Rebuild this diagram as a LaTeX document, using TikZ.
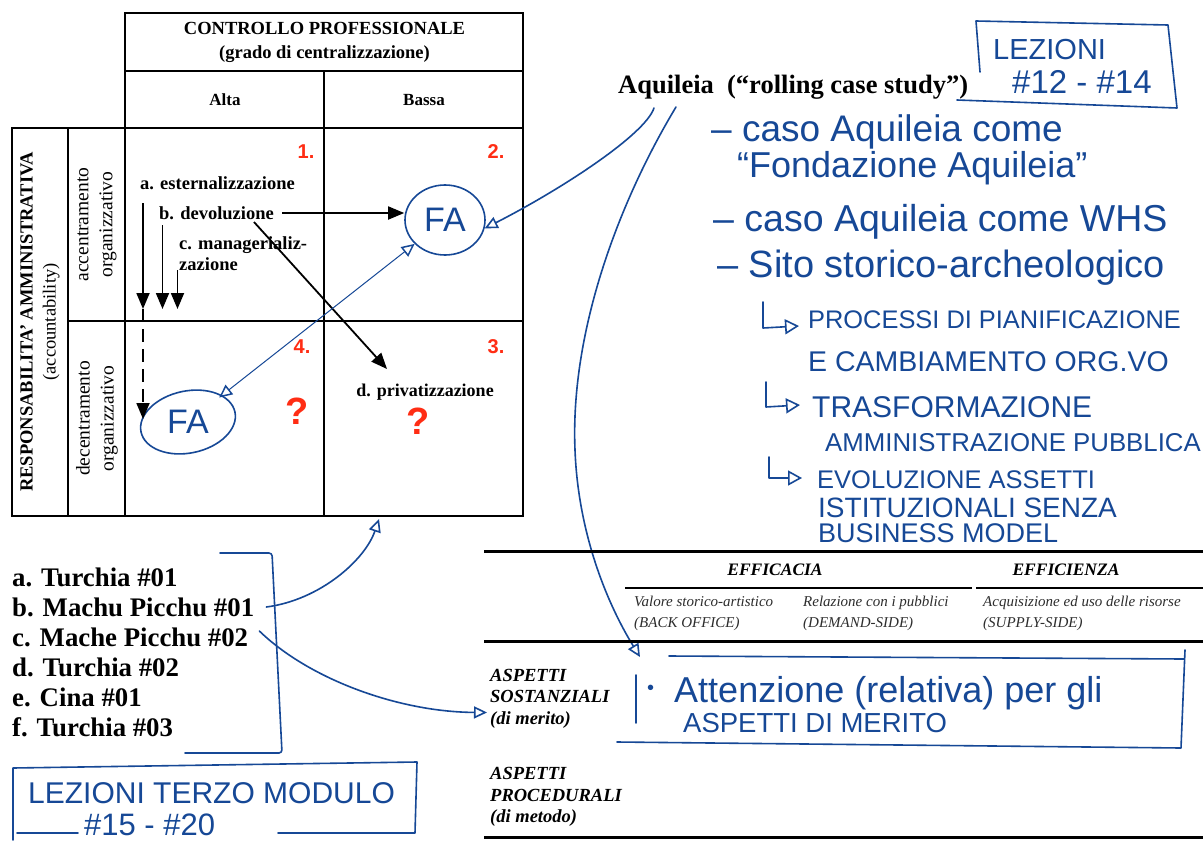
\documentclass[tikz,border=0pt]{standalone}
\usepackage{fontspec}
\setmainfont{Liberation Serif}
\newfontfamily\handfont{Liberation Sans}
\newfontfamily\numfont{Liberation Sans}
\usetikzlibrary{arrows.meta,shapes.geometric,calc}
\definecolor{hblue}{RGB}{22,72,150}
\definecolor{nred}{RGB}{255,45,20}
\definecolor{tgray}{RGB}{45,45,45}
\newcommand\fsz[2]{\fontsize{#1}{#2}\selectfont}
\tikzset{
  grid/.style={line width=1.3pt},
  ser/.style={inner sep=0pt},
  num/.style={inner sep=0pt, text=nred, font=\numfont\bfseries\fsz{20}{24}},
  qm/.style={inner sep=0pt, text=nred, font=\numfont\bfseries\fsz{38}{40}},
  blk/.style={line width=1.8pt, -{Triangle[length=16pt,width=13pt]}},
  hl/.style={draw=hblue, line width=1.6pt, line cap=round, line join=round},
  harr/.style={-{Triangle[open,length=13pt,width=12pt]}},
  larr/.style={-{Triangle[open,length=14pt,width=15pt]}},
  hw/.style={inner sep=0pt, anchor=west, text=hblue},
  fa/.style={ellipse, draw=hblue, line width=1.6pt, text=hblue, inner sep=0pt, font=\handfont\fsz{34}{36}},
  lst/.style={inner sep=0pt, anchor=west, font=\bfseries\fsz{26.8}{30}},
}
\begin{document}
\begin{tikzpicture}[x=1pt,y=-1pt]
\useasboundingbox (0,0) rectangle (1203,841);
\fill[white] (0,0) rectangle (1203,841);

% ---------- matrix grid ----------
\draw[grid] (125,13) rectangle (523,516);
\draw[grid] (125,71) -- (523,71);
\draw[grid] (12,128) rectangle (125,516);
\draw[grid] (125,128) -- (523,128);
\draw[grid] (68,128) -- (68,516);
\draw[grid] (324,71) -- (324,516);
\draw[grid] (68,321) -- (523,321);

\node[ser, align=center, font=\bfseries\fsz{18.5}{24}] (hdr) at (324.5,42) {CONTROLLO PROFESSIONALE\\(grado di centralizzazione)};
\node[ser, font=\bfseries\fsz{17}{20}] (alta) at (225,100) {Alta};
\node[ser, font=\bfseries\fsz{17}{20}] (bassa) at (424,100) {Bassa};

\node[ser, rotate=90, align=center, font=\fsz{18.5}{23}] (resp) at (40,322) {\bfseries RESPONSABILITA' AMMINISTRATIVA\\(accountability)};
\node[ser, rotate=90, align=center, font=\fsz{19.5}{24}] (acc) at (97,224.5) {accentramento\\organizzativo};
\node[ser, rotate=90, align=center, font=\fsz{19.5}{24}] (dec) at (97,418.5) {decentramento\\organizzativo};

\node[num] (n1) at (306,152) {1.};
\node[num] (n2) at (496,152) {2.};
\node[num] (n4) at (302,347) {4.};
\node[num] (n3) at (496,347) {3.};
\node[qm] (q4) at (297,411) {?};
\node[qm] (q3) at (418,421) {?};

\node[ser, anchor=west, font=\bfseries\fsz{18.5}{21}] (este) at (140,183.6) {a. esternalizzazione};
\node[ser, anchor=west, font=\bfseries\fsz{18.5}{21}] (devol) at (159,213) {b. devoluzione};
\node[ser, anchor=west, align=left, font=\bfseries\fsz{18.5}{21}] (manag) at (179,253.5) {c. managerializ-\\zazione};
\node[ser, font=\bfseries\fsz{18}{21}] (priv) at (425,392) {d. privatizzazione};

% FA ellipses
\node[fa, minimum width=80pt, minimum height=70pt] (fatop) at (445,220) {FA};
\node[fa, draw=none, minimum width=96pt, minimum height=62pt] (fabot) at (188,422) {FA};
\draw[hl, rotate around={12:(fabot.center)}] (fabot.center) ellipse [x radius=48pt, y radius=31pt];

% black arrows
\coordinate (a1s) at (143,203);
\coordinate (a1e) at (143,309);
\coordinate (a1t) at (143,419);
\coordinate (a2s) at (162.5,225);
\coordinate (a2e) at (162.5,309);
\coordinate (a3s) at (177.5,270);
\coordinate (a3e) at (177.5,309);
\coordinate (dS) at (254,222);
\coordinate (dE) at (387,369);
\draw[blk] (a1s) -- (a1e);
\draw[blk] (a2s) -- (a2e);
\draw[blk] (a3s) -- (a3e);
\draw[blk, dash pattern=on 13pt off 7pt] (a1e) -- (a1t);
\draw[blk, shorten <=8pt] (devol.east) -- (devol.east -| fatop.west);
\draw[blk] (dS) -- (dE);

% blue connector between FA
\draw[hl, line width=1pt, {Triangle[open,length=13pt,width=12pt,line width=1.5pt]}-{Triangle[open,length=13pt,width=12pt,line width=1.5pt]}] (fabot) -- (fatop);

% ---------- Aquileia ----------
\node[ser, anchor=base west, font=\bfseries\fsz{26.5}{30}] (aq) at (618,93) {Aquileia~ (“rolling case study”)};
\coordinate (aqA) at (654,108);
\coordinate (aqB) at (676,107);
\coordinate (tipB) at (640,657);
\draw[hl, harr] (aqA) .. controls (645,135) and (560,190) .. (fatop.-12);
\draw[hl, harr] (aqB) .. controls (620,200) and (570,330) .. (575,450) .. controls (578,530) and (605,600) .. (tipB);

% LEZIONI #12-#14 box
\draw[hl] (980,72) -- (976,21) -- (1168,25) -- (1177,108) -- (957,100);
\node[hw, font=\handfont\fsz{29}{32}] (lez1) at (993,50) {LEZIONI};
\node[hw, font=\handfont\fsz{33}{34}] (lez2) at (1012,82) {\#12 - \#14};

% handwritten notes
\node[hw, font=\handfont\fsz{37}{40}] (h1) at (711,132) {– caso Aquileia come};
\node[hw, font=\handfont\fsz{36}{40}] (h2) at (737,168) {“Fondazione Aquileia”};
\node[hw, font=\handfont\fsz{37.5}{40}] (h3) at (713,222) {– caso Aquileia come WHS};
\node[hw, font=\handfont\fsz{38}{40}] (h4) at (717,268) {– Sito storico-archeologico};

\coordinate (l1a) at (763,302); \coordinate (l1b) at (763,328); \coordinate (l1c) at (799,326);
\coordinate (l2a) at (766,382); \coordinate (l2b) at (766,407); \coordinate (l2c) at (800,405);
\coordinate (l3a) at (769,457); \coordinate (l3b) at (769,478); \coordinate (l3c) at (802,478);
\draw[hl, larr] (l1a) -- (l1b) -- (l1c);
\draw[hl, larr] (l2a) -- (l2b) -- (l2c);
\draw[hl, larr] (l3a) -- (l3b) -- (l3c);

\node[hw, font=\handfont\fsz{25.4}{28}] (h5) at (808,320) {PROCESSI DI PIANIFICAZIONE};
\node[hw, font=\handfont\fsz{28.5}{30}] (h6) at (808,362) {E CAMBIAMENTO ORG.VO};
\node[hw, font=\handfont\fsz{30}{32}] (h7) at (812,407) {TRASFORMAZIONE};
\node[hw, font=\handfont\fsz{25.8}{28}] (h8) at (825,443) {AMMINISTRAZIONE PUBBLICA};
\node[hw, font=\handfont\fsz{25.5}{28}] (h9) at (817,480) {EVOLUZIONE ASSETTI};
\node[hw, font=\handfont\fsz{28}{30}] (h10) at (818,508) {ISTITUZIONALI SENZA};
\node[hw, font=\handfont\fsz{27}{30}] (h11) at (818,533) {BUSINESS MODEL};

% ---------- lower table ----------
\draw[line width=3pt] (484,551) -- (1203,551);
\draw[line width=2.2pt] (625,588) -- (972,588);
\draw[line width=2.2pt] (976,588) -- (1203,588);
\draw[line width=3pt] (484,641) -- (1203,641);
\draw[line width=3pt] (484,837) -- (1203,837);

\node[ser, font=\bfseries\itshape\fsz{17.5}{21}] (effa) at (775,570) {EFFICACIA};
\node[ser, font=\bfseries\itshape\fsz{17.5}{21}] (effi) at (1066,570) {EFFICIENZA};
\node[ser, anchor=west, align=left, text=tgray, font=\itshape\fsz{15}{21}] (val) at (634,613.5) {Valore storico-artistico\\(BACK OFFICE)};
\node[ser, anchor=west, align=left, text=tgray, font=\itshape\fsz{15}{21}] (rel) at (803,613.5) {Relazione con i pubblici\\(DEMAND-SIDE)};
\node[ser, anchor=west, align=left, text=tgray, font=\itshape\fsz{15}{21}] (acq) at (983,613.5) {Acquisizione ed uso delle risorse\\(SUPPLY-SIDE)};

\node[ser, anchor=west, align=left, font=\bfseries\itshape\fsz{18.5}{21.5}] (sost) at (490,698.5) {ASPETTI\\SOSTANZIALI\\(di merito)};
\node[ser, anchor=west, align=left, font=\bfseries\itshape\fsz{18.5}{21.5}] (proc) at (490,797) {ASPETTI\\PROCEDURALI\\(di metodo)};

% attention box
\draw[hl] (669,656) -- (1184,659);
\draw[hl] (1185,650) -- (1181,748) -- (617,742);
\draw[hl] (636,675) -- (636,723);
\node[hw, font=\handfont\fsz{20}{22}] (bul) at (647,690) {•};
\node[hw, font=\handfont\fsz{36}{40}] (att1) at (674,693) {Attenzione (relativa) per gli};
\node[hw, font=\handfont\fsz{27.5}{30}] (att2) at (683,723) {ASPETTI DI MERITO};

% ---------- list ----------
\node[lst] (li1) at (12,577) {a. Turchia \#01};
\node[lst] (li2) at (12,607) {b. Machu Picchu \#01};
\node[lst] (li3) at (12,637) {c. Mache Picchu \#02};
\node[lst] (li4) at (12,667) {d. Turchia \#02};
\node[lst] (li5) at (12,697) {e. Cina \#01};
\node[lst] (li6) at (12,727) {f. Turchia \#03};

\draw[hl, rounded corners=3pt] (220,553) -- (272,553) -- (282,753) -- (185,753);
\coordinate (tblB) at (379,519);
\draw[hl, harr] ($(li2.east)+(12,0)$) .. controls (320,600) and (365,560) .. (tblB);
\draw[hl, harr, shorten >=3pt] ($(li3.east)+(11,-6)$) .. controls (310,680) and (400,712) .. ($(sost.west)+(0,14)$);

% LEZIONI TERZO MODULO box
\draw[hl] (13,840) -- (13,768) -- (417,762) -- (415,833) -- (278,833);
\draw[hl] (78,833) -- (17,833);
\node[hw, font=\handfont\fsz{30}{32}] (lez3) at (28,793) {LEZIONI TERZO MODULO};
\node[hw, font=\handfont\fsz{31}{33}] (lez4) at (84,825) {\#15 - \#20};
\end{tikzpicture}
\end{document}
